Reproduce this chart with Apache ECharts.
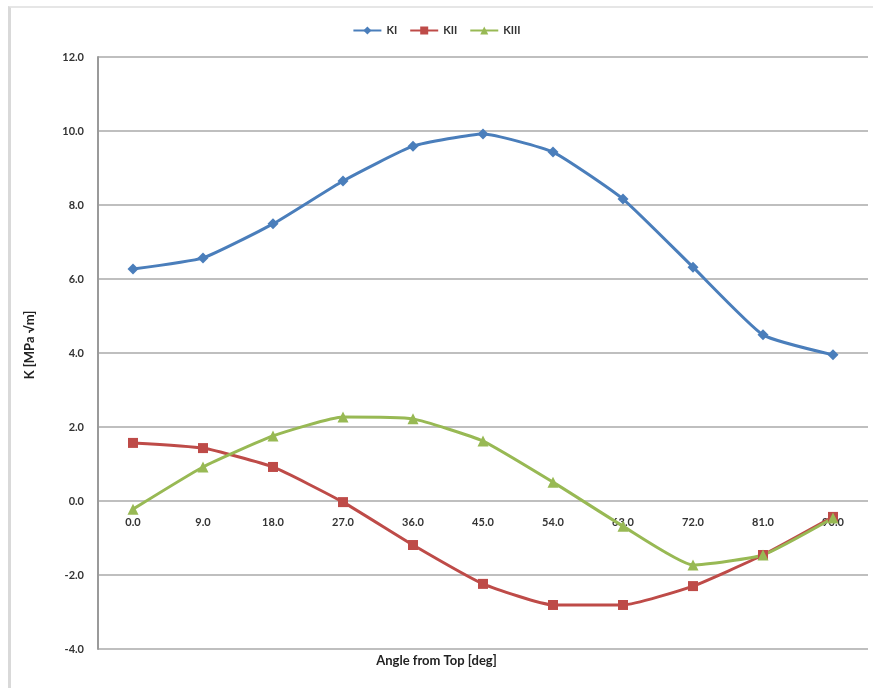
<!DOCTYPE html>
<html><head><meta charset="utf-8">
<script src="https://cdn.jsdelivr.net/npm/echarts@6/dist/echarts.min.js"></script>
<style>html,body{margin:0;padding:0;background:#fff}#c{width:873px;height:688px;position:relative}
#frame{position:absolute;left:8px;top:6px;right:-2px;bottom:0px;border-left:3px solid #d9d9d9;border-top:2px solid #e6e6e6;pointer-events:none}</style>
</head><body><div id="c"></div><div id="frame"></div>
<script>
const categories = ['0.0','9.0','18.0','27.0','36.0','45.0','54.0','63.0','72.0','81.0','90.0'];
const KI   = [6.27, 6.57, 7.49, 8.65, 9.59, 9.92, 9.43, 8.16, 6.32, 4.49, 3.95];
const KII  = [1.57, 1.43, 0.92, -0.03, -1.19, -2.24, -2.81, -2.81, -2.30, -1.46, -0.43];
const KIII = [-0.22, 0.92, 1.76, 2.27, 2.22, 1.62, 0.51, -0.68, -1.73, -1.46, -0.46];
const yTicks = [-4, 12, 2];

const font = 'Lato, "Open Sans", sans-serif';
const chart = echarts.init(document.getElementById('c'));
function s(name, data, color, symbol, size){
  return {name, type:'line', data, symbol, symbolSize:size, smooth:0.15,
    lineStyle:{color, width:3}, itemStyle:{color}, z: 3};
}
chart.setOption({
  animation:false,
  textStyle:{fontFamily:font},
  legend:{top:20, left:'center', itemWidth:28, itemHeight:10, itemGap:12,
    textStyle:{fontSize:11, fontWeight:'bold', color:'#333', fontFamily:font},
    data:['KI','KII','KIII']},
  grid:{left:98, right:5, top:57, bottom:39, containLabel:false, outerBoundsMode:'none'},
  graphic:[
    {type:'text', left:'center', top:654, style:{text:'Angle from Top [deg]', font:'bold 13px '+font, fill:'#222'}},
    {type:'text', x:30, y:345, rotation:Math.PI/2, style:{text:'K [MPa \u221Am]', font:'bold 13px '+font, fill:'#222', align:'center', verticalAlign:'middle'}}
  ],
  xAxis:{type:'category', data:categories, boundaryGap:true, offset:-148,
    axisLine:{show:false, onZero:false}, axisTick:{show:false},
    axisLabel:{fontSize:11, fontWeight:'bold', color:'#333', margin:16, fontFamily:font}},
  yAxis:{type:'value', min:yTicks[0], max:yTicks[1], interval:yTicks[2],
    axisLine:{show:true, lineStyle:{color:'#9a9a9a', width:2}}, axisTick:{show:false},
    axisLabel:{fontSize:11, fontWeight:'bold', color:'#333', margin:14, fontFamily:font,
      formatter:v=>v.toFixed(1)},
    splitLine:{lineStyle:{color:'#bfbfbf', width:2}}},
  series:[
    s('KI', KI, '#4a7ebb', 'diamond', 11),
    s('KII', KII, '#be4b48', 'rect', 10),
    s('KIII', KIII, '#98b954', 'triangle', 11)
  ]
});
</script></body></html>
